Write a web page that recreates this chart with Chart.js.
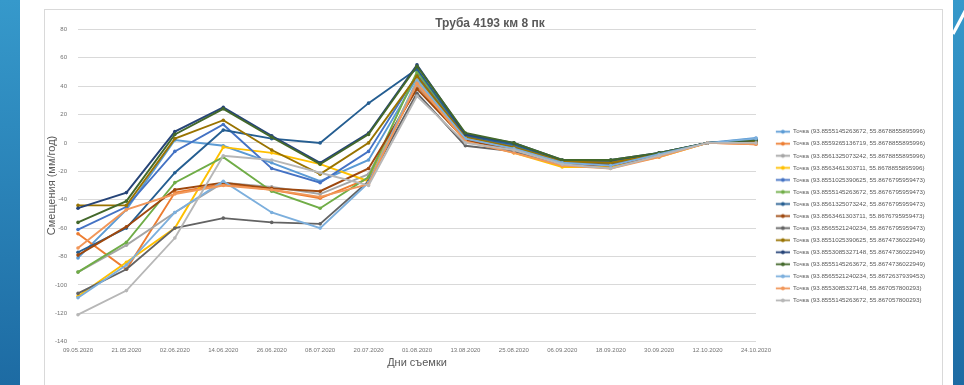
<!DOCTYPE html>
<html lang="ru">
<head>
<meta charset="utf-8">
<title>Труба 4193 км 8 пк</title>
<script src="https://cdn.jsdelivr.net/npm/chart.js@4.4.1/dist/chart.umd.min.js"></script>
<style>
  html, body { margin: 0; padding: 0; }
  body {
    width: 964px; height: 385px; overflow: hidden; position: relative;
    background: linear-gradient(#3699cb, #1d6ba3);
  }
  #slide { position: absolute; left: 20px; top: 0; width: 933px; height: 385px; background: #fff; }
  #frame { position: absolute; left: 44px; top: 9px; width: 899px; height: 400px;
           border: 1px solid #d9d9d9; box-sizing: border-box; }
  #chart { position: absolute; left: 45px; top: 10px; }
  #accent { position: absolute; left: 953px; top: 0; }
</style>
</head>
<body>
<div id="slide"></div>
<div id="frame"></div>
<canvas id="chart" width="897" height="375"></canvas>
<svg id="accent" width="11" height="60" viewBox="0 0 11 60">
  <line x1="18" y1="0" x2="0" y2="34" stroke="#fff" stroke-width="3.2"/>
</svg>
<script>
// Survey dates (category axis)
const surveyDates = ['09.05.2020', '21.05.2020', '02.06.2020', '14.06.2020', '26.06.2020',
  '08.07.2020', '20.07.2020', '01.08.2020', '13.08.2020', '25.08.2020',
  '06.09.2020', '18.09.2020', '30.09.2020', '12.10.2020', '24.10.2020'];

// Displacement rate per monitoring point, mm/year
const p01 = [-81, -47, 2, -2, -14, -27, -12, 46, 4, -3, -14, -15, -8, 0, 3.5];
const p02 = [-64, -89, -35, -29, -33, -39, -25, 40, 2, -6, -16, -17, -9, 0, -1];
const p03 = [-91, -72, -49, -28, -31, -36, -22, 41, 3, -4, -14, -16, -8, 0, 1];
const p04 = [-108, -84, -60, -3, -7, -15, -27, 44, 2, -7, -17, -17, -10, 0, 0];
const p05 = [-61, -45, -6, 13, -18, -28, -6, 48, 5, -2, -13, -14, -8, 0, 2];
const p06 = [-91, -70, -28, -10, -34, -46, -24, 50, 6, -1, -13, -14, -8, 0, 1];
const p07 = [-77, -60, -21, 9, 3, 0, 28, 52, 5, -1, -13, -13, -7, 0, 2];
const p08 = [-79, -59, -33, -28, -32, -34, -18, 38, 2, -5, -15, -16, -9, 0, 0];
const p09 = [-106, -89, -60, -53, -56, -57, -27, 35, -2, -6, -14, -15, -8, 0, 0];
const p10 = [-44, -44, 3, 16, -5, -22, 0, 47, 4, -3, -13, -14, -8, 0, 1];
const p11 = [-46, -35, 8, 25, 5, -14, 7, 55, 6, 0, -12, -12, -7, 0, 2];
const p12 = [-56, -41, 6, 24, 4, -15, 6, 54, 7, 0, -12, -12, -7, 0, 2];
const p13 = [-109, -86, -49, -27, -49, -60, -28, 44, 3, -4, -14, -16, -8, 0, 3];
const p14 = [-74, -47, -36, -30, -33, -38, -29, 42, 1, -7, -16, -18, -10, 0, -1];
const p15 = [-121, -104, -67, -9, -12, -21, -30, 33, 0, -5, -15, -18, -9, 0, 0];

const pointNames = [
  'Точка (93.8555145263672, 55.8678855895996)',
  'Точка (93.8559265136719, 55.8678855895996)',
  'Точка (93.8561325073242, 55.8678855895996)',
  'Точка (93.8563461303711, 55.8678855895996)',
  'Точка (93.8551025390625, 55.8676795959473)',
  'Точка (93.8555145263672, 55.8676795959473)',
  'Точка (93.8561325073242, 55.8676795959473)',
  'Точка (93.8563461303711, 55.8676795959473)',
  'Точка (93.8565521240234, 55.8676795959473)',
  'Точка (93.8551025390625, 55.8674736022949)',
  'Точка (93.8553085327148, 55.8674736022949)',
  'Точка (93.8555145263672, 55.8674736022949)',
  'Точка (93.8565521240234, 55.8672637939453)',
  'Точка (93.8553085327148, 55.867057800293)',
  'Точка (93.8555145263672, 55.867057800293)'
];
const seriesValues = [p01, p02, p03, p04, p05, p06, p07, p08, p09, p10, p11, p12, p13, p14, p15];

// Y axis range and step
const yMin = -140, yMax = 80, yStep = 20;

// Office palette
const palette = ['#5b9bd5', '#ed7d31', '#a5a5a5', '#ffc000', '#4472c4', '#70ad47',
  '#255e91', '#9e480e', '#636363', '#997300', '#264478', '#43682b',
  '#7cafdd', '#f1975a', '#b7b7b7'];

const FONT = '"Liberation Sans", Arial, sans-serif';
const TEXT = '#595959';
const TICK = '#737373';

// Legend swatch: short line with a marker in the middle
function legendSwatch(color) {
  const c = document.createElement('canvas');
  c.width = 28; c.height = 7;
  const g = c.getContext('2d');
  g.strokeStyle = color; g.lineWidth = 1.8;
  g.beginPath(); g.moveTo(14, 3.5); g.lineTo(28, 3.5); g.stroke();
  g.fillStyle = color;
  g.beginPath(); g.arc(21, 3.5, 1.9, 0, Math.PI * 2); g.fill();
  return c;
}
const swatches = palette.map(legendSwatch);

const datasets = seriesValues.map((values, i) => ({
  label: pointNames[i],
  data: values,
  borderColor: palette[i],
  backgroundColor: palette[i],
  borderWidth: 1.9,
  pointRadius: 1.8,
  pointStyle: 'circle',
  pointBorderWidth: 0,
  tension: 0,
  order: seriesValues.length - i   // later series are painted on top
}));

new Chart(document.getElementById('chart'), {
  type: 'line',
  data: { labels: surveyDates, datasets },
  options: {
    responsive: false,
    animation: false,
    devicePixelRatio: 1,
    layout: { padding: { left: 0, right: 7, top: 0, bottom: 0 } },
    plugins: {
      title: {
        display: true,
        text: 'Труба 4193 км 8 пк',
        color: TEXT,
        font: { family: FONT, size: 12, weight: 'bold', lineHeight: 0.85 },
        padding: { top: 8.4, bottom: 0.7 }
      },
      legend: {
        position: 'right',
        align: 'start',
        title: { display: true, text: '', font: { size: 10, lineHeight: 1 }, padding: { top: 102.75, bottom: 0 } },
        labels: {
          usePointStyle: true,
          pointStyleWidth: 28,
          padding: 5.85,
          color: TEXT,
          font: { family: FONT, size: 6.2 },
          sort: (a, b) => a.datasetIndex - b.datasetIndex,
          generateLabels(chart) {
            const items = Chart.defaults.plugins.legend.labels.generateLabels(chart);
            items.forEach(it => { it.pointStyle = swatches[it.datasetIndex]; });
            return items;
          }
        }
      },
      tooltip: { enabled: false }
    },
    scales: {
      x: {
        offset: false,
        grid: { display: false, drawTicks: false },
        border: { display: false },
        ticks: { autoSkip: false, maxRotation: 0, minRotation: 0, padding: 5, color: TICK,
                 font: { family: FONT, size: 6 } },
        title: { display: true, text: 'Дни съемки', color: TEXT,
                 font: { family: FONT, size: 11 }, padding: { top: 0, bottom: 15.4 } },
        afterFit(scale) { scale.height = 43.3; }
      },
      y: {
        min: yMin, max: yMax,
        grid: { color: '#d9d9d9', lineWidth: 1, drawTicks: false },
        border: { display: false },
        ticks: { stepSize: yStep, padding: 11, color: TICK, font: { family: FONT, size: 6 } },
        title: { display: true, text: 'Смещения (мм/год)', color: TEXT,
                 font: { family: FONT, size: 11 }, padding: { top: 0.4, bottom: 0 } },
        afterFit(scale) { scale.width = 33; }
      }
    }
  }
});
</script>
</body>
</html>
